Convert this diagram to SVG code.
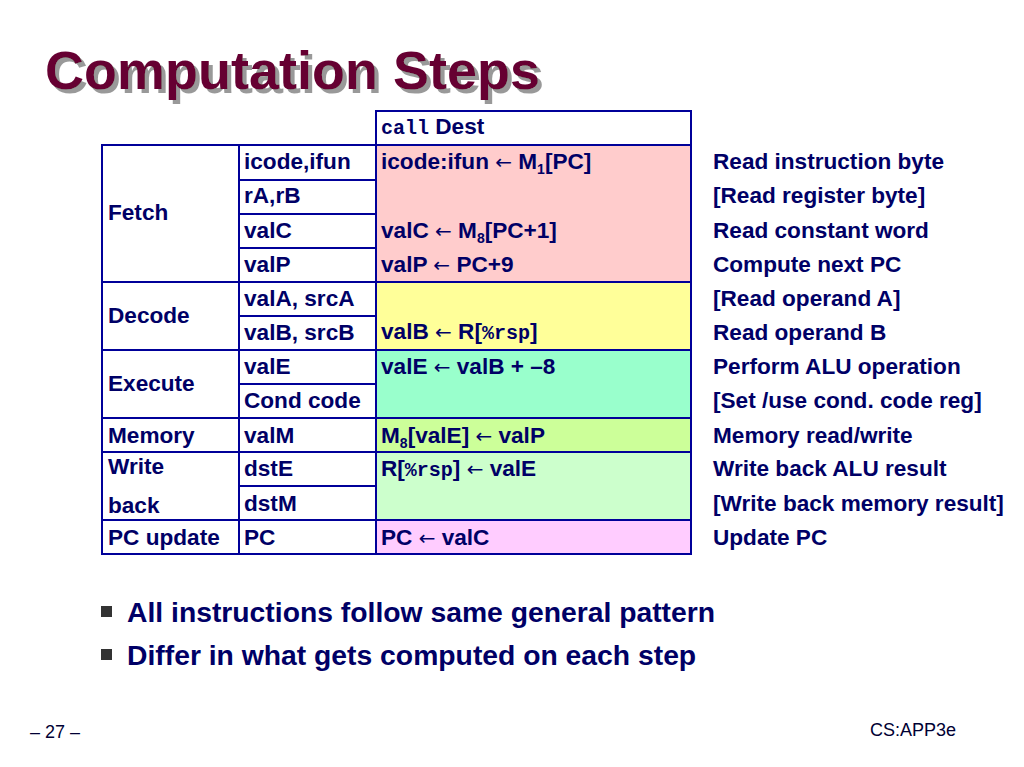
<svg xmlns="http://www.w3.org/2000/svg" width="1024" height="767" viewBox="0 0 1024 767">
<defs>
<filter id="sh" x="-5%" y="-20%" width="115%" height="150%"><feDropShadow dx="4" dy="4" stdDeviation="0.5" flood-color="#999" flood-opacity="1"/></filter>
</defs>
<style>
text{font-family:"Liberation Sans",Arial,sans-serif;font-weight:bold;fill:#000066;font-size:22.6px}
.m{font-family:"Liberation Mono","Courier New",monospace;font-size:20px}
.a{font-family:"DejaVu Sans",sans-serif;font-weight:normal;font-size:20px}
.c{fill:#fff;stroke:#000099;stroke-width:2}
.n{font-weight:normal;fill:#000033;font-size:18px}
</style>
<rect width="1024" height="767" fill="#fff"/>
<g id="title">
<text x="45" y="89" filter="url(#sh)" style="font-size:54px;fill:#660033">Computation Steps</text>
</g>
<g id="table">
<rect class="c" x="376" y="111" width="315" height="34"/>
<rect class="c" x="376" y="145" width="315" height="137" style="fill:#FFCCCC"/>
<rect class="c" x="376" y="282" width="315" height="68" style="fill:#FFFF99"/>
<rect class="c" x="376" y="350" width="315" height="68" style="fill:#99FFCC"/>
<rect class="c" x="376" y="418" width="315" height="34" style="fill:#CCFF99"/>
<rect class="c" x="376" y="452" width="315" height="68" style="fill:#CCFFCC"/>
<rect class="c" x="376" y="520" width="315" height="34" style="fill:#FFCCFF"/>
<rect class="c" x="102" y="145" width="137" height="137"/>
<rect class="c" x="102" y="282" width="137" height="68"/>
<rect class="c" x="102" y="350" width="137" height="68"/>
<rect class="c" x="102" y="418" width="137" height="34"/>
<rect class="c" x="102" y="452" width="137" height="68"/>
<rect class="c" x="102" y="520" width="137" height="34"/>
<rect class="c" x="239" y="145" width="137" height="35"/>
<rect class="c" x="239" y="180" width="137" height="34"/>
<rect class="c" x="239" y="214" width="137" height="34"/>
<rect class="c" x="239" y="248" width="137" height="34"/>
<rect class="c" x="239" y="282" width="137" height="34"/>
<rect class="c" x="239" y="316" width="137" height="34"/>
<rect class="c" x="239" y="350" width="137" height="34"/>
<rect class="c" x="239" y="384" width="137" height="34"/>
<rect class="c" x="239" y="418" width="137" height="34"/>
<rect class="c" x="239" y="452" width="137" height="34"/>
<rect class="c" x="239" y="486" width="137" height="34"/>
<rect class="c" x="239" y="520" width="137" height="34"/>
<text x="381" y="134"><tspan class="m">call</tspan> Dest</text>
<text x="108" y="220">Fetch</text>
<text x="108" y="323">Decode</text>
<text x="108" y="391">Execute</text>
<text x="108" y="443">Memory</text>
<text x="108" y="474">Write</text>
<text x="108" y="513">back</text>
<text x="108" y="545">PC update</text>
<text x="244" y="169">icode,ifun</text>
<text x="244" y="203">rA,rB</text>
<text x="244" y="238">valC</text>
<text x="244" y="272">valP</text>
<text x="244" y="306">valA, srcA</text>
<text x="244" y="340">valB, srcB</text>
<text x="244" y="374">valE</text>
<text x="244" y="408">Cond code</text>
<text x="244" y="443">valM</text>
<text x="244" y="476">dstE</text>
<text x="244" y="511">dstM</text>
<text x="244" y="545">PC</text>
<text x="381" y="169">icode:ifun <tspan class="a">←</tspan> M<tspan font-size="14" dy="5">1</tspan><tspan dy="-5">[PC]</tspan></text>
<text x="381" y="238">valC <tspan class="a">←</tspan> M<tspan font-size="14" dy="5">8</tspan><tspan dy="-5">[PC+1]</tspan></text>
<text x="381" y="272">valP <tspan class="a">←</tspan> PC+9</text>
<text x="381" y="339">valB <tspan class="a">←</tspan> R[<tspan class="m">%rsp</tspan>]</text>
<text x="381" y="374">valE <tspan class="a">←</tspan> valB + –8</text>
<text x="381" y="443">M<tspan font-size="14" dy="5">8</tspan><tspan dy="-5">[valE] </tspan><tspan class="a">←</tspan> valP</text>
<text x="381" y="476">R[<tspan class="m">%rsp</tspan>] <tspan class="a">←</tspan> valE</text>
<text x="381" y="545">PC <tspan class="a">←</tspan> valC</text>
</g>
<g id="notes">
<text x="713" y="169">Read instruction byte</text>
<text x="713" y="203">[Read register byte]</text>
<text x="713" y="238">Read constant word</text>
<text x="713" y="272">Compute next PC</text>
<text x="713" y="306">[Read operand A]</text>
<text x="713" y="340">Read operand B</text>
<text x="713" y="374">Perform ALU operation</text>
<text x="713" y="408">[Set /use cond. code reg]</text>
<text x="713" y="443">Memory read/write</text>
<text x="713" y="476">Write back ALU result</text>
<text x="713" y="511">[Write back memory result]</text>
<text x="713" y="545">Update PC</text>
</g>
<g id="bullets">
<rect x="101" y="606" width="11" height="11" fill="#333"/>
<text x="127" y="622" style="font-size:28.3px">All instructions follow same general pattern</text>
<rect x="101" y="649" width="11" height="11" fill="#333"/>
<text x="127" y="665" style="font-size:28.3px">Differ in what gets computed on each step</text>
</g>
<text x="30" y="738" class="n">– 27 –</text>
<text x="870" y="736" class="n">CS:APP3e</text>
</svg>
